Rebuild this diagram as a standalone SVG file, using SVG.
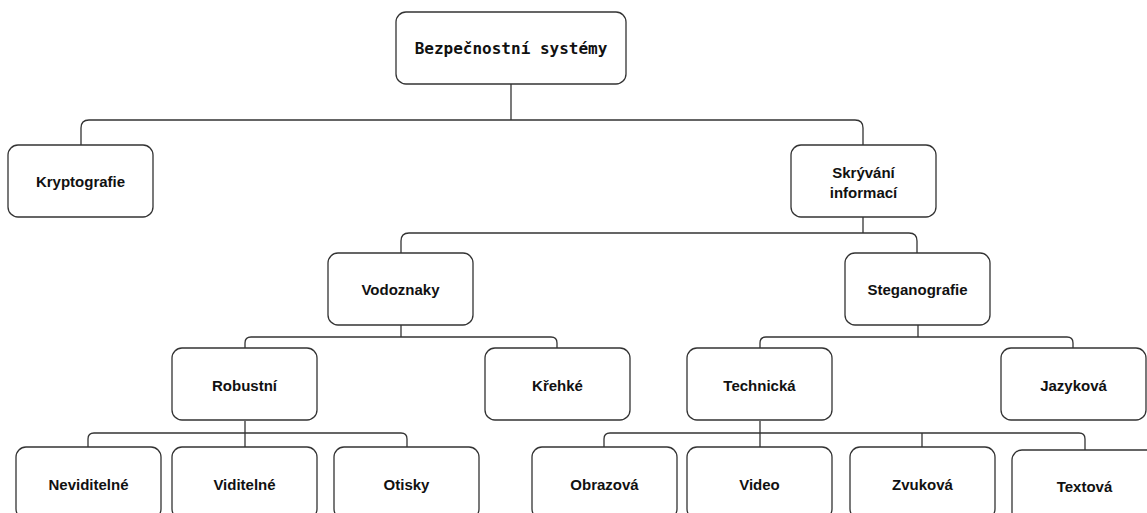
<svg xmlns="http://www.w3.org/2000/svg" width="1147" height="513" viewBox="0 0 1147 513">
<style>
.box{fill:#fff;stroke:#333;stroke-width:1.3}
.lbl{font-family:"Liberation Sans",Arial,sans-serif;font-weight:bold;font-size:15px;fill:#111;text-anchor:middle}
.mono{font-family:"DejaVu Sans Mono",monospace;font-weight:bold;font-size:16px;fill:#111;text-anchor:middle}
.conn{fill:none;stroke:#333;stroke-width:1.3}
</style>
<rect width="1147" height="513" fill="#fff"/>
<g id="connectors">
<path class="conn" d="M511,84 V120"/>
<path class="conn" d="M81,145 V128 Q81,120 89,120 H855 Q863,120 863,128 V145"/>
<path class="conn" d="M863,217 V233"/>
<path class="conn" d="M401,253 V241 Q401,233 409,233 H909 Q917,233 917,241 V253"/>
<path class="conn" d="M401,325 V337"/>
<path class="conn" d="M245,348 V343 Q245,337 251,337 H551 Q557,337 557,343 V348"/>
<path class="conn" d="M918,325 V337"/>
<path class="conn" d="M760,348 V343 Q760,337 766,337 H1067 Q1073,337 1073,343 V348"/>
<path class="conn" d="M245,421 V447"/>
<path class="conn" d="M88,447 V439 Q88,433 94,433 H401 Q407,433 407,439 V447"/>
<path class="conn" d="M760,421 V447"/>
<path class="conn" d="M604,447 V439 Q604,433 610,433 H1079 Q1085,433 1085,439 V450"/>
<path class="conn" d="M922,433 V447"/>
</g>
<g id="root"><rect class="box" x="396" y="12" width="230" height="72" rx="10"/><text class="mono" x="511" y="54">Bezpečnostní systémy</text></g>
<g id="kryptografie"><rect class="box" x="8" y="145" width="145" height="72" rx="10"/><text class="lbl" x="80.5" y="187">Kryptografie</text></g>
<g id="skryvani"><rect class="box" x="791" y="145" width="145" height="72" rx="10"/><text class="lbl" x="863.5" y="178">Skrývání</text><text class="lbl" x="863.5" y="198">informací</text></g>
<g id="vodoznaky"><rect class="box" x="328" y="253" width="145" height="72" rx="10"/><text class="lbl" x="400.5" y="295">Vodoznaky</text></g>
<g id="steganografie"><rect class="box" x="845" y="253" width="145" height="72" rx="10"/><text class="lbl" x="917.5" y="295">Steganografie</text></g>
<g id="robustni"><rect class="box" x="172" y="348" width="145" height="72" rx="10"/><text class="lbl" x="244.5" y="391">Robustní</text></g>
<g id="krehke"><rect class="box" x="485" y="348" width="145" height="72" rx="10"/><text class="lbl" x="557.5" y="391">Křehké</text></g>
<g id="technicka"><rect class="box" x="687" y="348" width="145" height="72" rx="10"/><text class="lbl" x="759.5" y="391">Technická</text></g>
<g id="jazykova"><rect class="box" x="1001" y="348" width="145" height="72" rx="10"/><text class="lbl" x="1073.5" y="391">Jazyková</text></g>
<g id="neviditelne"><rect class="box" x="16" y="447" width="145" height="72" rx="10"/><text class="lbl" x="88.5" y="490">Neviditelné</text></g>
<g id="viditelne"><rect class="box" x="172" y="447" width="145" height="72" rx="10"/><text class="lbl" x="244.5" y="490">Viditelné</text></g>
<g id="otisky"><rect class="box" x="334" y="447" width="145" height="72" rx="10"/><text class="lbl" x="406.5" y="490">Otisky</text></g>
<g id="obrazova"><rect class="box" x="532" y="447" width="145" height="72" rx="10"/><text class="lbl" x="604.5" y="490">Obrazová</text></g>
<g id="video"><rect class="box" x="687" y="447" width="145" height="72" rx="10"/><text class="lbl" x="759.5" y="490">Video</text></g>
<g id="zvukova"><rect class="box" x="850" y="447" width="145" height="72" rx="10"/><text class="lbl" x="922.5" y="490">Zvuková</text></g>
<g id="textova"><rect class="box" x="1012" y="450" width="145" height="72" rx="10"/><text class="lbl" x="1084.5" y="492">Textová</text></g>
</svg>
